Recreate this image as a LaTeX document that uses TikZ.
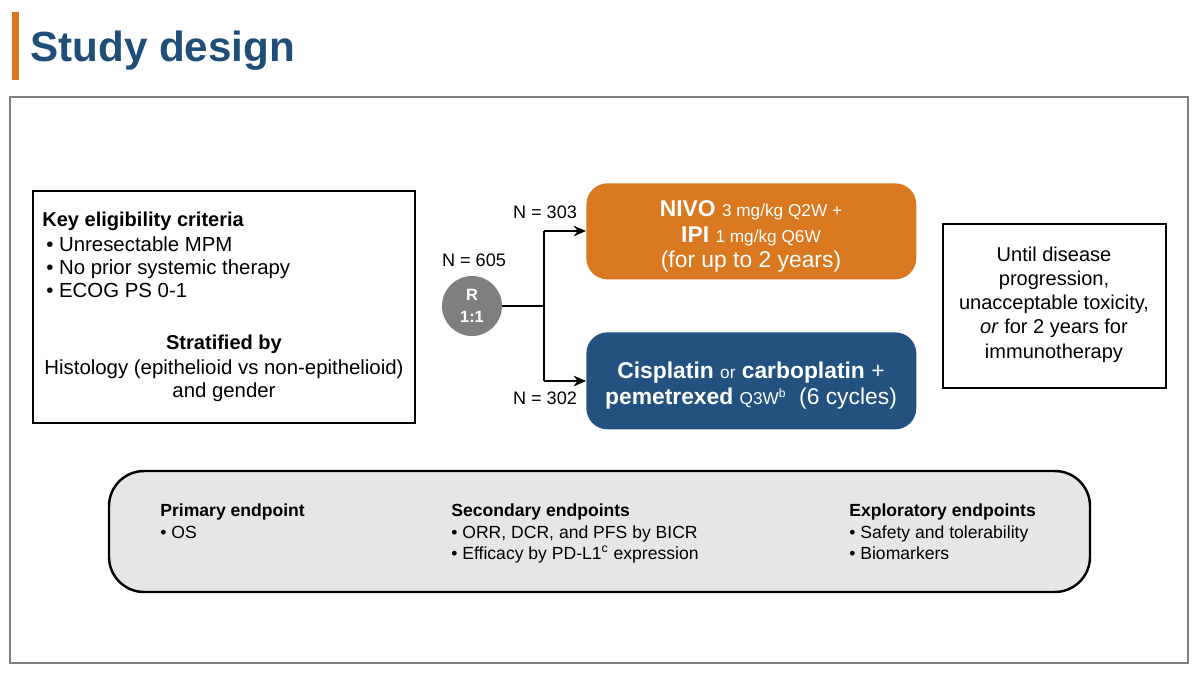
\documentclass[tikz,border=0pt]{standalone}
\usepackage{fontspec}
\setmainfont{Liberation Sans}
\usetikzlibrary{arrows.meta}
\definecolor{ttl}{HTML}{1F4E79}
\definecolor{org}{HTML}{D9781F}
\definecolor{blu}{HTML}{235280}
\definecolor{frame}{HTML}{808080}
\definecolor{rgray}{HTML}{7F7F7F}
\definecolor{lgray}{HTML}{E6E6E6}
\tikzset{
  box/.style={draw=black, line width=1.4pt},
  arm/.style={rounded corners=12pt, inner sep=0pt},
  conn/.style={line width=1.3pt, -{Stealth[length=7pt,width=6pt]}},
  lbl/.style={inner sep=0pt, font=\fontsize{10.3}{13.7}\selectfont},
  body/.style={inner sep=0pt, font=\fontsize{11.6}{14}\selectfont},
  bodyb/.style={inner sep=0pt, font=\fontsize{11.4}{14}\selectfont\bfseries},
  rbody/.style={inner sep=0pt, font=\fontsize{11.4}{14}\selectfont},
  armtxt/.style={anchor=base, inner sep=0pt, text=white, font=\fontsize{13}{15}\selectfont},
}
\newcommand{\armsmall}{\fontsize{9.8}{12}\selectfont}
\begin{document}
\begin{tikzpicture}[x=0.02cm,y=-0.02cm]
\useasboundingbox (0,0) rectangle (1200,675);
% title
\fill[org] (12,12) rectangle (19,80);
\node[anchor=base west, inner sep=0pt, text=ttl, font=\fontsize{24}{30}\selectfont\bfseries] (title) at (30,62) {Study design};
% outer frame
\draw[frame, line width=1pt] (10,97) rectangle (1188,663);
% left box
\draw[box] (33,191) rectangle (415,423);
\node[bodyb, anchor=base west] (kec) at (42,227) {Key eligibility criteria};
\node[body, anchor=base west] (b1) at (46,252) {• Unresectable MPM};
\node[body, anchor=base west] (b2) at (46,275) {• No prior systemic therapy};
\node[body, anchor=base west] (b3) at (46,298) {• ECOG PS 0-1};
\node[bodyb, anchor=base] (strat) at (224,350) {Stratified by};
\node[body, anchor=base] (h1) at (224,375) {Histology (epithelioid vs non-epithelioid)};
\node[body, anchor=base] (h2) at (224,398) {and gender};
% randomisation
\node[circle, fill=rgray, inner sep=0pt, text=white, font=\fontsize{9.3}{12.5}\selectfont\bfseries, align=center, minimum size=1.2cm] (R) at (472,306) {R\\1:1};
\node[lbl, anchor=base] (n605) at (474,267) {N = 605};
\coordinate (split) at (544,306);
\coordinate (top) at (544,231);
\coordinate (bot) at (544,381);
% arms
\node[arm, fill=org, minimum width=6.6cm, minimum height=1.92cm, anchor=north west] (nivo) at (586,183) {};
\node[arm, fill=blu, minimum width=6.6cm, minimum height=1.94cm, anchor=north west] (chemo) at (586,332) {};
\node[armtxt] (nivo1) at (751,217) {\textbf{NIVO} {\armsmall 3 mg/kg Q2W +}};
\node[armtxt] (nivo2) at (751,243) {\textbf{IPI} {\armsmall 1 mg/kg Q6W}};
\node[armtxt] (nivo3) at (751,268) {(for up to 2 years)};
\node[armtxt] (ch1) at (751,378) {\textbf{Cisplatin} {\armsmall or} \textbf{carboplatin} +};
\node[armtxt] (ch2) at (751,404) {\textbf{pemetrexed} {\armsmall Q3W\textsuperscript{b}} ~(6 cycles)};
\node[lbl, anchor=base] (n303) at (545,219) {N = 303};
\node[lbl, anchor=base] (n302) at (545,404) {N = 302};
\draw[line width=1.3pt] (R.east) -- (split);
\draw[line width=1.3pt] (top) -- (bot);
\draw[conn] (top) -- (nivo.west |- top);
\draw[conn] (bot) -- (chemo.west |- bot);
% right box
\draw[box] (943,224) rectangle (1166,388);
\node[rbody, anchor=base] (u1) at (1054,262) {Until disease};
\node[rbody, anchor=base] (u2) at (1054,286) {progression,};
\node[rbody, anchor=base] (u3) at (1054,310) {unacceptable toxicity,};
\node[rbody, anchor=base] (u4) at (1054,334) {\textit{or} for 2 years for};
\node[rbody, anchor=base] (u5) at (1054,358) {immunotherapy};
% endpoints
\draw[box, fill=lgray, rounded corners=20pt] (109,471) rectangle (1090,592);
\begin{scope}[every node/.style={anchor=base west, inner sep=0pt, font=\fontsize{10}{12}\selectfont}]
\node[font=\fontsize{10}{12}\selectfont\bfseries] (p0) at (160,516) {Primary endpoint};
\node (p1) at (160,538) {• OS};
\node[font=\fontsize{10}{12}\selectfont\bfseries] (s0) at (451,516) {Secondary endpoints};
\node (s1) at (451,538) {• ORR, DCR, and PFS by BICR};
\node (s2) at (451,559) {• Efficacy by PD-L1\textsuperscript{c} expression};
\node[font=\fontsize{10}{12}\selectfont\bfseries] (e0) at (849,516) {Exploratory endpoints};
\node (e1) at (849,538) {• Safety and tolerability};
\node (e2) at (849,559) {• Biomarkers};
\end{scope}
\end{tikzpicture}
\end{document}
